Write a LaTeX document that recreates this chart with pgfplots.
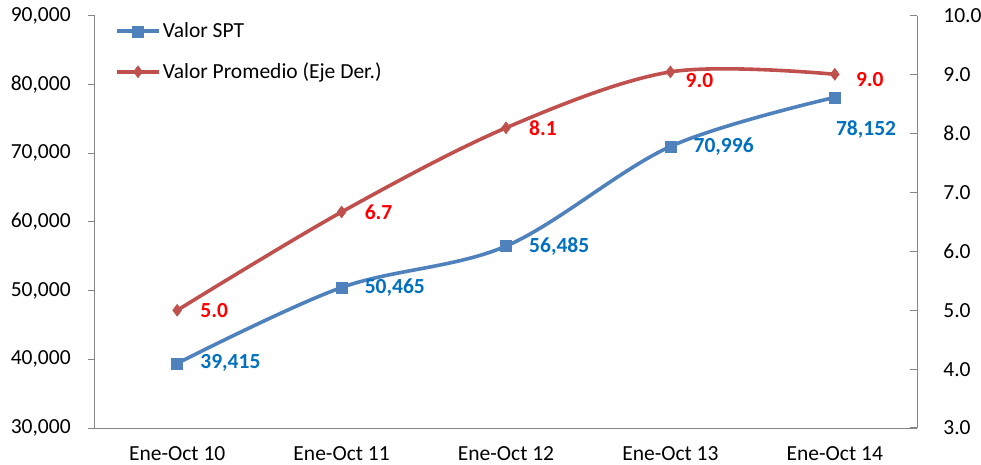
\documentclass[border=0pt]{standalone}
\usepackage{pgfplots}
\pgfplotsset{compat=1.18}
\usepackage{pgfplotstable}
\usepackage{fontspec}
\setmainfont{Carlito}
\definecolor{sptblue}{RGB}{79,129,189}
\definecolor{promred}{RGB}{192,80,77}
\definecolor{lblblue}{RGB}{0,112,192}
\definecolor{lblred}{RGB}{255,0,0}
\definecolor{axgray}{RGB}{134,134,134}

\pgfplotstableread{
x y lbl dx dy
0 39415 39,415 23 0
1 50465 50,465 23 0
2 56485 56,485 23 0
3 70996 70,996 23 0
4 78152 78,152 1 -32
}\spt
\pgfplotstableread{
x y lbl dx dy
0 5.00 5.0 23 0
1 6.67 6.7 23 0
2 8.10 8.1 23 0
3 9.05 9.0 15 -9
4 9.01 9.0 21 -5
}\prom

\begin{document}
\fontsize{21.5}{25}\selectfont
\begin{tikzpicture}
\useasboundingbox (-95pt,-37pt) rectangle (886pt,428pt);
\pgfplotsset{
  base/.style={
    width=822pt, height=412pt, scale only axis,
    xmin=-0.5, xmax=4.5, clip=false,
    axis line style={axgray, line width=1pt},
    tick style={axgray, line width=1pt},
    major tick length=7pt,
    tick label style={font=\fontsize{21.5}{25}\selectfont, black},
    /pgf/number format/assume math mode=true,
    scaled y ticks=false,
  },
  lbl/.style={
    draw=none, mark=none,
    nodes near coords={\pgfplotspointmeta},
    point meta=explicit symbolic,
    visualization depends on={\thisrow{dx}\as\dx},
    visualization depends on={\thisrow{dy}\as\dy},
    nodes near coords style={anchor=west, inner sep=0pt,
      xshift=\dx pt, yshift=\dy pt,
      font=\fontsize{21.5}{25}\selectfont\bfseries},
  },
}
\begin{axis}[base,
  ymin=30000, ymax=90000, ytick distance=10000,
  axis y line*=left, axis x line*=bottom,
  tick align=outside,
  yticklabel style={/pgf/number format/fixed, /pgf/number format/1000 sep={,}, xshift=-10pt},
  xtick={0,1,2,3,4},
  xticklabels={Ene-Oct 10,Ene-Oct 11,Ene-Oct 12,Ene-Oct 13,Ene-Oct 14},
  xtick style={draw=none},
  minor xtick={0.5,1.5,2.5,3.5},
  minor tick length=6pt,
  minor x tick style={axgray, line width=1pt},
  xticklabel style={yshift=-4pt},
  legend style={at={(axis description cs:0,1)}, anchor=north west,
    xshift=20pt, yshift=-4pt, draw=none, fill=none,
    row sep=18pt, font=\fontsize{21.5}{25}\selectfont,
    legend cell align=left, inner sep=0pt},
  legend image code/.code={
    \draw[mark repeat=2, mark phase=2] plot coordinates {(0pt,0pt) (21pt,0pt) (42pt,0pt)};
  },
]
\addplot[sptblue, line width=3.6pt, smooth, tension=0.55, mark=square*, mark size=5.5pt,
  mark options={solid, line width=0.5pt}] table[x=x, y=y] {\spt};
\addlegendentry{Valor SPT}
\addlegendimage{promred, line width=3.6pt, mark=diamond*, mark size=6pt,
  mark options={solid, line width=0.5pt}}
\addlegendentry{Valor Promedio (Eje Der.)}
\addplot[lbl, lblblue] table[x=x, y=y, meta=lbl] {\spt};
\end{axis}
\begin{axis}[base,
  ymin=3, ymax=10, ytick distance=1,
  axis y line*=right, axis x line=none,
  ytick align=inside,
  yticklabel style={/pgf/number format/fixed, /pgf/number format/fixed zerofill, /pgf/number format/precision=1, xshift=19pt},
]
\addplot[promred, line width=3.6pt, smooth, tension=0.55, mark=diamond*, mark size=6pt,
  mark options={solid, line width=0.5pt}] table[x=x, y=y] {\prom};
\addplot[lbl, lblred] table[x=x, y=y, meta=lbl] {\prom};
\end{axis}
\end{tikzpicture}
\end{document}
